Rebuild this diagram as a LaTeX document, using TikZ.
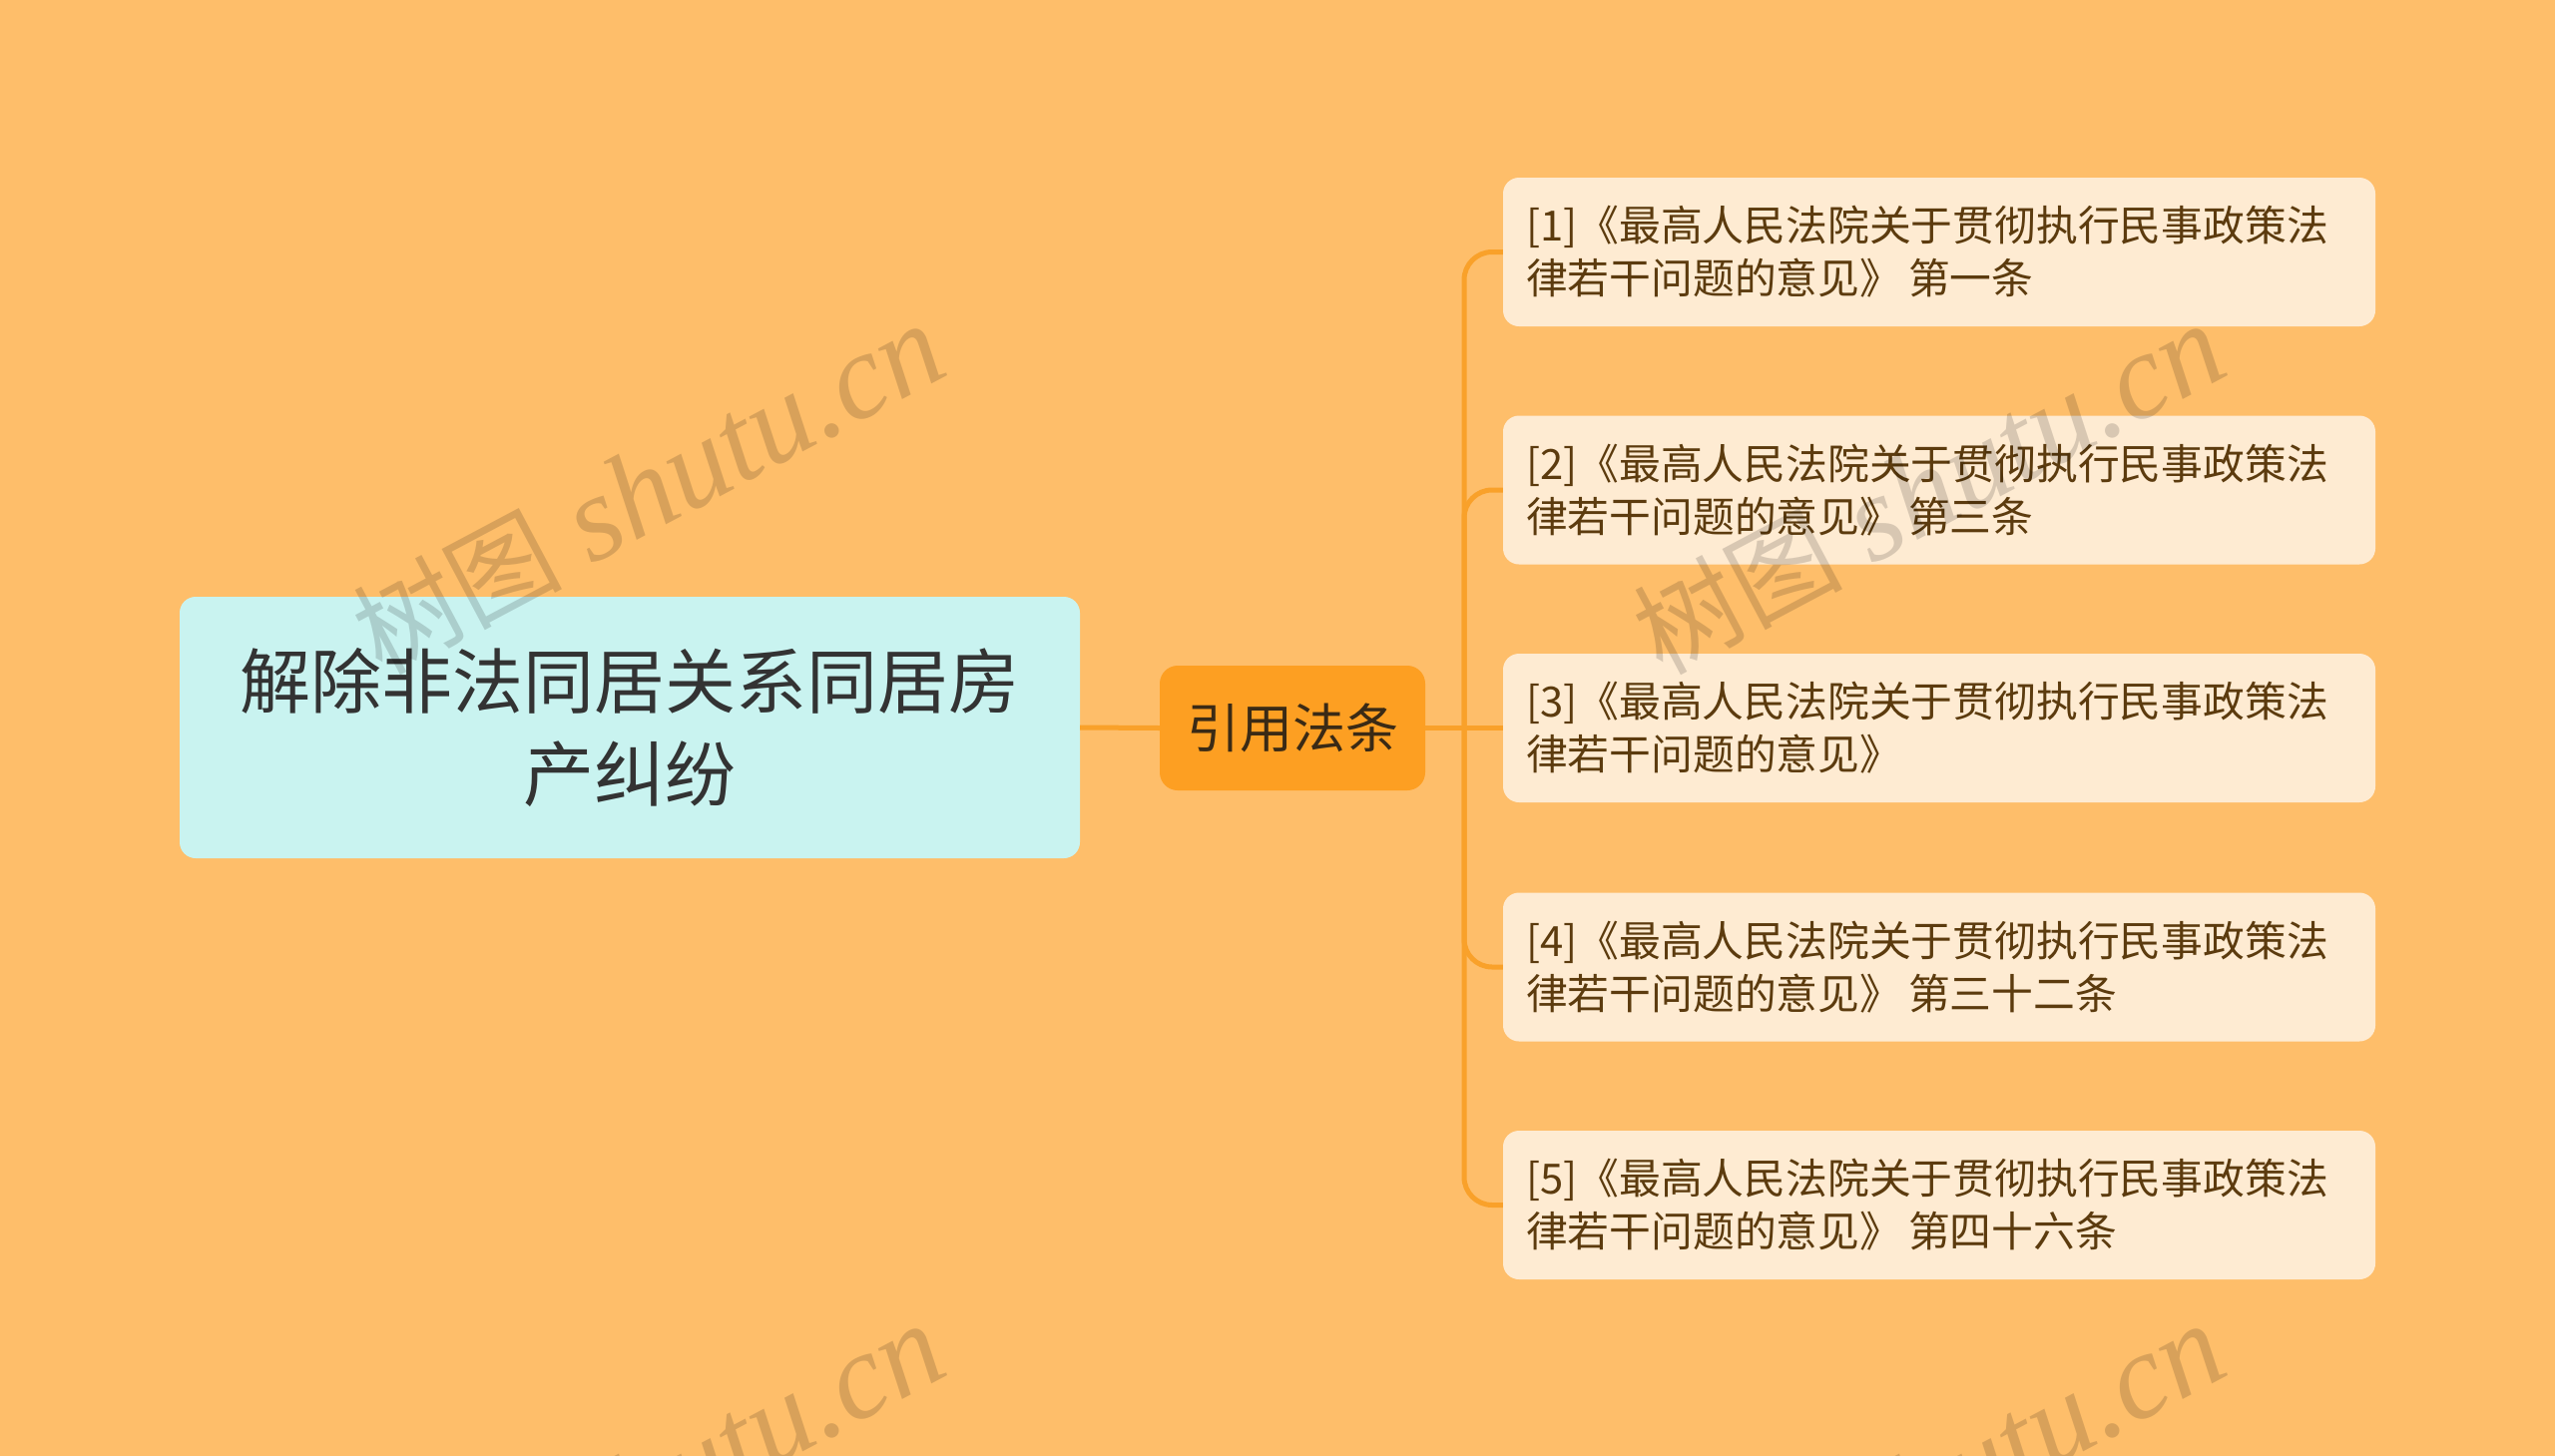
\documentclass[tikz,border=0pt]{standalone}
\usepackage{fontspec}
\newfontfamily\cjk{Noto Sans CJK SC}
\newfontfamily\wmserif{Liberation Serif}
\definecolor{bgc}{HTML}{FEBE6A}
\definecolor{rootfill}{HTML}{C9F3F0}
\definecolor{roottext}{HTML}{333333}
\definecolor{midfill}{HTML}{FD9F22}
\definecolor{midtext}{HTML}{3A2A15}
\definecolor{leaffill}{HTML}{FEEBD2}
\definecolor{leaftext}{HTML}{5C3B0E}
\definecolor{linec}{HTML}{F9A12A}
\tikzset{
  rootbox/.style={rectangle, rounded corners=16pt, fill=rootfill, text=roottext,
    minimum width=902pt, minimum height=262pt, inner sep=0pt, align=center,
    font=\cjk\fontsize{71}{93}\selectfont},
  midbox/.style={rectangle, rounded corners=18pt, fill=midfill, text=midtext,
    minimum width=266pt, minimum height=125pt, inner sep=0pt,
    font=\cjk\fontsize{53}{60}\selectfont},
  leafbox/.style={rectangle, rounded corners=16pt, fill=leaffill, text=leaftext,
    minimum width=874pt, minimum height=149pt, inner xsep=23pt, inner ysep=0pt,
    text width=828pt, align=left,
    font=\cjk\fontsize{41.8}{53}\selectfont},
  conn/.style={draw=linec, line width=5pt},
  wm/.style={anchor=base west, rotate=28, text=black, text opacity=0.15, inner sep=0pt}
}
\newcommand{\wmtext}{{\cjk\fontsize{105}{110}\selectfont 树图}\hspace{28pt}{\wmserif\itshape\fontsize{122}{130}\selectfont shutu.cn}}
\newcommand{\sep}{\hspace{7pt}}
\begin{document}
\begin{tikzpicture}[x=1pt,y=-1pt]
\fill[bgc] (0,0) rectangle (2560,1459);
\useasboundingbox (0,0) rectangle (2560,1459);

\node[rootbox] (root) at (631,729) {解除非法同居关系同居房\\产纠纷};
\node[midbox] (mid) at (1295,729.5) {引用法条};

\node[leafbox] (l1) at (1943,252.5) {[1]《最高人民法院关于贯彻执行民事政策法\\律若干问题的意见》\sep 第一条};
\node[leafbox] (l2) at (1943,491) {[2]《最高人民法院关于贯彻执行民事政策法\\律若干问题的意见》\sep 第三条};
\node[leafbox] (l3) at (1943,729.5) {[3]《最高人民法院关于贯彻执行民事政策法\\律若干问题的意见》};
\node[leafbox] (l4) at (1943,969) {[4]《最高人民法院关于贯彻执行民事政策法\\律若干问题的意见》\sep 第三十二条};
\node[leafbox] (l5) at (1943,1207.5) {[5]《最高人民法院关于贯彻执行民事政策法\\律若干问题的意见》\sep 第四十六条};

\coordinate (j) at (1467,729.5);
\draw[conn] (root.east) -- (mid.west);
\draw[conn] (mid.east) -- (l3.west);
\draw[conn, rounded corners=28pt] (j) |- (l1.west);
\draw[conn, rounded corners=28pt] (j) |- (l2.west);
\draw[conn, rounded corners=28pt] (j) |- (l4.west);
\draw[conn, rounded corners=28pt] (j) |- (l5.west);

\begin{scope}
\clip (0,0) rectangle (2560,1459);
\node[wm] (wm1) at (382,678) {\wmtext};
\node[wm] (wm2) at (1665,678) {\wmtext};
\node[wm] (wm3) at (382,1680) {\wmtext};
\node[wm] (wm4) at (1665,1680) {\wmtext};
\end{scope}
\end{tikzpicture}
\end{document}
